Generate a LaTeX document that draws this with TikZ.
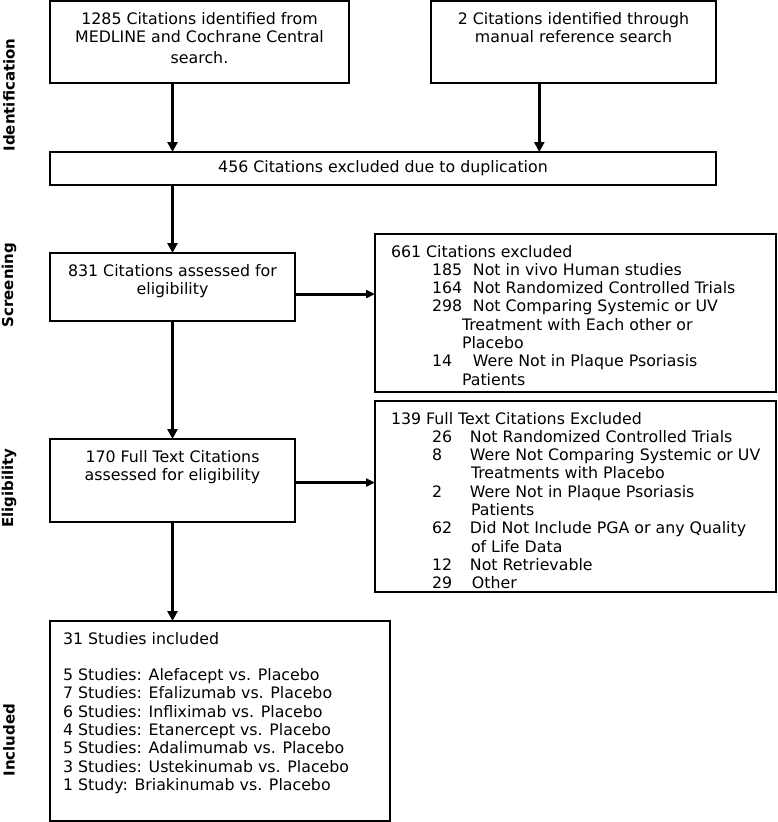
\documentclass[tikz,border=0pt]{standalone}
\usepackage{fontspec}
\setmainfont{DejaVu Sans}
\usetikzlibrary{arrows.meta, positioning, calc}

\newcommand{\stagetext}[3]{\parbox[c][#2][t]{#1}{#3}}
\newcommand{\firstline}{\rule{0pt}{23pt}}
\newcommand{\exitem}[3][41pt]{\par\hspace*{57pt}\makebox[#1][l]{#2}#3}
\newcommand{\excont}[2]{\par\hspace*{#1}#2}

\begin{document}
\begin{tikzpicture}[x=1pt, y=-1pt, every node/.style={font=\fontsize{15.8}{18.3}\selectfont}]

        % Stile
        \tikzstyle{stagebox}=[draw, line width=1.3pt, inner sep=0pt, outer sep=0pt]
        \tikzstyle{phase}=[rotate=90, inner sep=0pt, font=\bfseries\fontsize{15}{17}\selectfont]
        \tikzstyle{flow}=[line width=3.5pt, -{Triangle[length=10pt, width=10pt]}]
        \tikzstyle{sideflow}=[line width=3pt, -{Triangle[length=9pt, width=8pt]}]

        \useasboundingbox (0,0) rectangle (778,822);

        % Identifikation
        \node[stagebox, anchor=north west] (ident) at (50,1)
          {\stagetext{299pt}{82pt}{\centering\firstline 1285 Citations identified from\\ MEDLINE and Cochrane Central\\[3pt] search.}};
        \node[stagebox, below right=0pt and 82pt of ident.north east] (manual)
          {\stagetext{285pt}{82pt}{\centering\firstline 2 Citations identified through\\ manual reference search}};
        \node[stagebox, below right=69pt and 0pt of ident.south west, minimum width=666pt, minimum height=33pt] (dup)
          {456 Citations excluded due to duplication};

        % Screening
        \node[stagebox, below right=68pt and 0pt of dup.south west] (screen)
          {\stagetext{245pt}{68pt}{\centering\firstline 831 Citations assessed for\\ eligibility}};
        \node[stagebox, below right=-19pt and 80pt of screen.north east] (excl1)
          {\stagetext{401pt}{158pt}{\raggedright\firstline\hspace*{16pt}661 Citations excluded
            \exitem{185}{Not in vivo Human studies}
            \exitem{164}{Not Randomized Controlled Trials}
            \exitem{298}{Not Comparing Systemic or UV}
            \excont{87pt}{Treatment with Each other or}
            \excont{87pt}{Placebo}
            \exitem{14}{Were Not in Plaque Psoriasis}
            \excont{87pt}{Patients}}};

        % Eignung
        \node[stagebox, below right=118pt and 0pt of screen.south west] (elig)
          {\stagetext{245pt}{83pt}{\centering\firstline 170 Full Text Citations\\ assessed for eligibility}};
        \node[stagebox, below right=9pt and 0pt of excl1.south west] (excl2)
          {\stagetext{401pt}{191pt}{\raggedright\firstline\hspace*{16pt}139 Full Text Citations Excluded
            \exitem[38pt]{26}{Not Randomized Controlled Trials}
            \exitem[38pt]{8}{Were Not Comparing Systemic or UV}
            \excont{96pt}{Treatments with Placebo}
            \exitem[38pt]{2}{Were Not in Plaque Psoriasis}
            \excont{96pt}{Patients}
            \exitem[38pt]{62}{Did Not Include PGA or any Quality}
            \excont{96pt}{of Life Data}
            \exitem[38pt]{12}{Not Retrievable}
            \exitem[40pt]{29}{Other}}};

        % Eingeschlossen
        \node[stagebox, below right=99pt and 0pt of elig.south west] (incl)
          {\stagetext{340pt}{200pt}{\raggedright\leftskip=13pt\firstline 31 Studies included\par
            \vspace{\baselineskip}
            5 Studies: Alefacept vs. Placebo\par
            7 Studies: Efalizumab vs. Placebo\par
            6 Studies: Infliximab vs. Placebo\par
            4 Studies: Etanercept vs. Placebo\par
            5 Studies: Adalimumab vs. Placebo\par
            3 Studies: Ustekinumab vs. Placebo\par
            1 Study: Briakinumab vs. Placebo}};

        % Phasen
        \node[phase] (phident) at (9,95) {Identification};
        \node[phase] (phscreen) at (9,285) {Screening};
        \node[phase] (phelig) at (9,488) {Eligibility};
        \node[phase] (phincl) at (9,740) {Included};

        % Pfeile
        \coordinate (manualout) at ($(manual.south west)!0.38!(manual.south east)$);
        \draw[flow] (ident.south -| screen.north) -- (dup.north -| screen.north);
        \draw[flow] (manualout) -- (manualout |- dup.north);
        \draw[flow] (dup.south -| screen.north) -- (screen.north);
        \draw[sideflow] ([yshift=-7pt]screen.east) -- ([yshift=-7pt]screen.east -| excl1.west);
        \draw[flow] (screen.south) -- (elig.north);
        \draw[sideflow] ([yshift=-2pt]elig.east) -- ([yshift=-2pt]elig.east -| excl2.west);
        \draw[flow] (elig.south) -- (incl.north -| elig.south);
\end{tikzpicture}
\end{document}
